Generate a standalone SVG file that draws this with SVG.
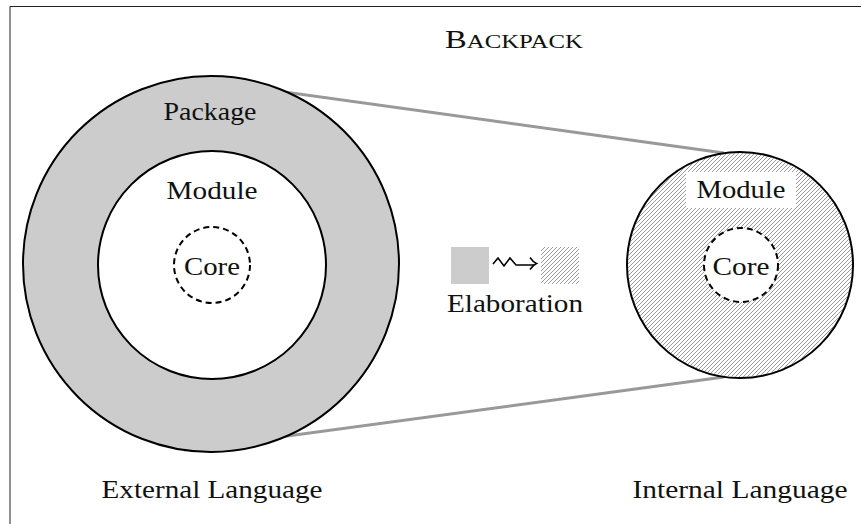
<svg xmlns="http://www.w3.org/2000/svg" width="861" height="524" viewBox="0 0 861 524">
  <style>
    .lbl { font-family: "Liberation Serif", "Times New Roman", serif; font-size: 25px; fill: #111; text-anchor: middle; }
    .ring { stroke: #000; stroke-width: 2; }
    .core { fill: #fff; stroke: #000; stroke-width: 2; stroke-dasharray: 6 4; }
    .tangent { stroke: #999; stroke-width: 3; fill: none; }
  </style>
  <defs>
    <pattern id="hatch" patternUnits="userSpaceOnUse" width="4" height="4">
      <path d="M-1,1 l2,-2 M0,4 l4,-4 M3,5 l2,-2" stroke="#555" stroke-width="0.6"/>
    </pattern>
  </defs>

  <rect width="861" height="524" fill="#fff"/>
  <!-- frame -->
  <path d="M10,524 V6.5 H861" fill="none" stroke="#222" stroke-width="1"/>

  <!-- title -->
  <text class="lbl" x="514" y="48" font-size="26" textLength="138" lengthAdjust="spacingAndGlyphs">B<tspan font-size="19">ACKPACK</tspan></text>

  <!-- projection lines between the two views -->
  <g id="connectors">
    <line class="tangent" x1="184" y1="78" x2="724" y2="153"/>
    <line class="tangent" x1="184" y1="450" x2="724" y2="377"/>
  </g>

  <!-- external view: package > module > core -->
  <g id="package">
    <circle class="ring" cx="211" cy="264" r="188" fill="#ccc"/>
    <text class="lbl" x="210" y="120" textLength="93" lengthAdjust="spacingAndGlyphs">Package</text>
  </g>
  <g id="module-ext">
    <circle class="ring" cx="212" cy="265" r="114" fill="#fff"/>
    <text class="lbl" x="212" y="199" textLength="91" lengthAdjust="spacingAndGlyphs">Module</text>
  </g>
  <g id="core-ext">
    <circle class="core" cx="212" cy="265" r="38"/>
    <text class="lbl" x="212" y="275" textLength="56" lengthAdjust="spacingAndGlyphs">Core</text>
  </g>

  <!-- internal view: elaborated module > core -->
  <g id="module-int">
    <circle cx="740" cy="265" r="113" fill="#fff"/>
    <circle cx="740" cy="265" r="112" fill="url(#hatch)"/>
    <circle cx="740" cy="265" r="113" fill="none" stroke="#000" stroke-width="2"/>
    <rect x="686" y="172" width="110" height="36" fill="#fff"/>
    <text class="lbl" x="741" y="198" textLength="89" lengthAdjust="spacingAndGlyphs">Module</text>
  </g>
  <g id="core-int">
    <circle class="core" cx="741" cy="265" r="37"/>
    <text class="lbl" x="741" y="275" textLength="57" lengthAdjust="spacingAndGlyphs">Core</text>
  </g>

  <!-- legend: elaboration -->
  <g id="legend">
    <rect x="451" y="247" width="38" height="37" fill="#ccc"/>
    <rect x="541" y="247" width="38" height="37" fill="url(#hatch)"/>
    <path d="M493,264 l5,-6 l6,8 l6,-8 l6,7 h18" fill="none" stroke="#000" stroke-width="1.6" stroke-linejoin="miter"/>
    <path d="M530,257.5 q3,4.5 6.5,6 q-3.5,1.5 -6.5,6" fill="none" stroke="#000" stroke-width="1.5"/>
    <text class="lbl" x="515" y="312" textLength="136" lengthAdjust="spacingAndGlyphs">Elaboration</text>
  </g>

  <!-- captions -->
  <text class="lbl" x="212" y="498" textLength="221" lengthAdjust="spacingAndGlyphs">External Language</text>
  <text class="lbl" x="740" y="498" textLength="215" lengthAdjust="spacingAndGlyphs">Internal Language</text>
</svg>
